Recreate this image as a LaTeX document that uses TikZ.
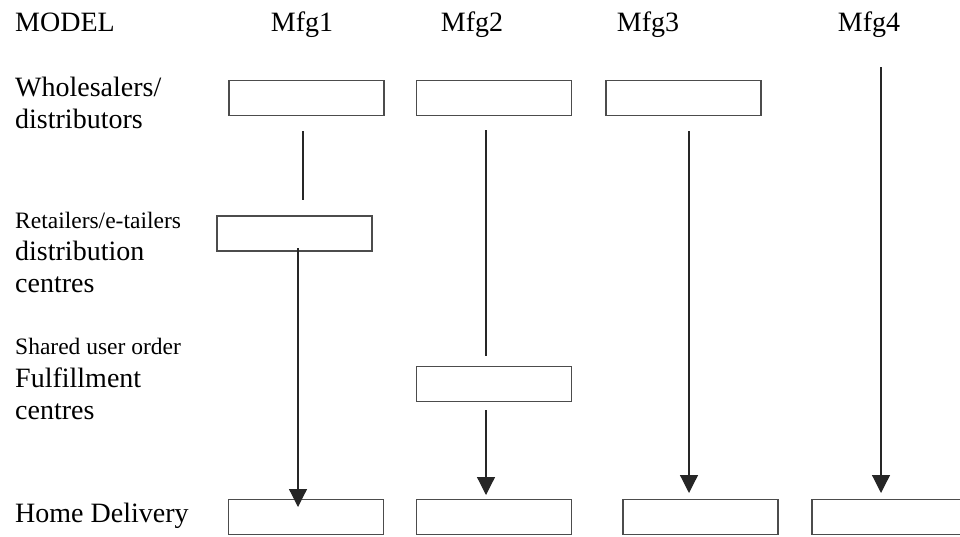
\documentclass[tikz,border=0pt]{standalone}
\usepackage{fontspec}
\setmainfont{Liberation Serif}
\usetikzlibrary{arrows.meta}
\begin{document}
\begin{tikzpicture}[x=1pt,y=-1pt,
  slot/.style={draw=black!70,line width=1.3pt,inner sep=0pt,outer sep=0pt,
    minimum width=155pt,minimum height=35pt},
  big/.style={font=\fontsize{28}{32}\selectfont,inner sep=0pt,anchor=base west},
  small/.style={font=\fontsize{23.5}{28}\selectfont,inner sep=0pt,anchor=base west},
  head/.style={font=\fontsize{28}{32}\selectfont,inner sep=0pt,anchor=base},
  link/.style={draw=black!85,line width=1.2pt},
  flow/.style={link,-{Triangle[width=18pt,length=18pt]}}]
\clip (0,0) rectangle (960,536);

% column headings
\node[big]  (model) at (15,31) {MODEL};
\node[head] (m1) at (302,31) {Mfg1};
\node[head] (m2) at (472,31) {Mfg2};
\node[head] (m3) at (648,31) {Mfg3};
\node[head] (m4) at (869,31) {Mfg4};

% row labels
\node[big]   (wh1) at (15,96)  {Wholesalers/};
\node[big]   (wh2) at (15,128) {distributors};
\node[small] (rt1) at (15,228) {Retailers/e-tailers};
\node[big]   (rt2) at (15,260) {distribution};
\node[big]   (rt3) at (15,292) {centres};
\node[small] (fc1) at (15,354) {Shared user order};
\node[big]   (fc2) at (15,387) {Fulfillment};
\node[big]   (fc3) at (15,419) {centres};
\node[big]   (hd)  at (15,522) {Home Delivery};

% boxes
\node[slot] (w1) at (306.5,98) {};
\node[slot] (w2) at (494,98) {};
\node[slot] (w3) at (683.5,98) {};
\node[slot] (r1) at (294.5,233.5) {};
\node[slot] (f2) at (494,384) {};
\node[slot] (h1) at (306,517) {};
\node[slot] (h2) at (494,517) {};
\node[slot] (h3) at (700.5,517) {};
\node[slot] (h4) at (889.5,517) {};

% connector ends
\coordinate (a1) at (303,131);
\coordinate (b1) at (303,200);
\coordinate (c1) at (298,248);
\coordinate (d1) at (298,507);
\coordinate (a2) at (486,130);
\coordinate (b2) at (486,356);
\coordinate (c2) at (486,410);
\coordinate (d2) at (486,495);
\coordinate (a3) at (689,131);
\coordinate (d3) at (689,493);
\coordinate (a4) at (881,67);
\coordinate (d4) at (881,493);

% connectors
\draw[link] (a1) -- (b1);
\draw[flow] (c1) -- (d1);
\draw[link] (a2) -- (b2);
\draw[flow] (c2) -- (d2);
\draw[flow] (a3) -- (d3);
\draw[flow] (a4) -- (d4);
\end{tikzpicture}
\end{document}
